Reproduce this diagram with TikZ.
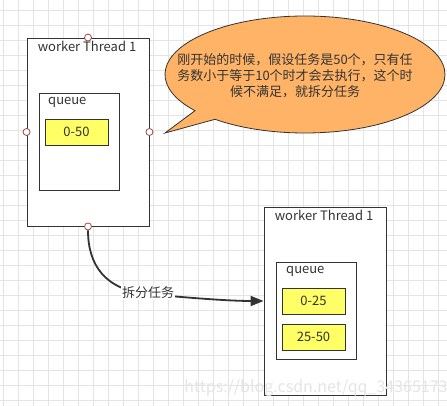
\documentclass[tikz,border=0pt]{standalone}
\usepackage{fontspec}
\setmainfont{Noto Sans CJK SC}
\usetikzlibrary{arrows.meta}
\definecolor{txt}{HTML}{333333}
\definecolor{gridc}{HTML}{E4E4E4}
\definecolor{yel}{HTML}{FFFF66}
\definecolor{orng}{HTML}{FFB366}
\definecolor{portc}{HTML}{9E4848}
\tikzset{
  gridline/.style={draw=gridc, line width=0.6pt},
  frame/.style={draw=txt, line width=0.9pt, fill=white, inner sep=0pt},
  valbox/.style={draw=txt, line width=0.9pt, fill=yel, inner sep=0pt, minimum width=63pt, minimum height=26pt, text=txt, font=\fontsize{13}{15}\selectfont},
  lbl/.style={text=txt, inner sep=0pt, font=\fontsize{13}{15}\selectfont},
  port/.style={circle, draw=portc, fill=white, line width=0.8pt, minimum size=7pt, inner sep=0pt},
  callshape/.style={draw=txt, line width=0.8pt, fill=orng},
  calltext/.style={text=txt, align=center, inner sep=0pt, font=\fontsize{13}{16}\selectfont},
  conn/.style={draw=txt, line width=1.8pt, -{Triangle[length=13pt,width=10pt]}},
}
\begin{document}
\begin{tikzpicture}[x=1pt,y=-1pt]
\useasboundingbox (0,0) rectangle (447,406);
\fill[white] (0,0) rectangle (447,406);
\foreach \x in {3,18,...,438} \draw[gridline] (\x,0) -- (\x,406);
\foreach \y in {10,25,...,400} \draw[gridline] (0,\y) -- (447,\y);

% left worker
\node[frame, minimum width=122pt, minimum height=188pt] (box1) at (88,132) {};
\node[lbl] (t1) at (87,46) {worker Thread 1};
\node[frame, minimum width=80pt, minimum height=97pt] (q1) at (79,141.5) {};
\node[lbl, anchor=west] (ql1) at (48,102) {queue};
\node[valbox] (v1) at (76.5,132) {0-50};
\foreach \a in {north,south,east,west} \node[port] (p\a) at (box1.\a) {};

% right worker
\node[frame, minimum width=122pt, minimum height=188pt] (box2) at (325,301) {};
\node[lbl] (t2) at (324,215) {worker Thread 1};
\node[frame, minimum width=80pt, minimum height=97pt] (q2) at (316,310.5) {};
\node[lbl, anchor=west] (ql2) at (286,271) {queue};
\node[valbox] (v2a) at (313.5,301) {0-25};
\node[valbox] (v2b) at (313.5,337) {25-50};

% callout
\filldraw[callshape] (305,74.5) ++(130:140 and 58.5) arc[start angle=130, end angle=-218.2, x radius=140, y radius=58.5] -- (165,133) -- cycle;
\node[calltext] (callout) at (295,76) {刚开始的时候，假设任务是50个，只有任\\务数小于等于10个时才会去执行，这个时\\候不满足，就拆分任务};

% connector
\draw[conn] (psouth) .. controls (88,265) and (105,290) .. (148,294) .. controls (190,298) and (230,301) .. (box2.west);
\node[lbl, fill=white, inner sep=1pt] (split) at (148,293) {拆分任务};

% watermark
\node[text=gray!20, inner sep=0pt, font=\fontsize{16}{18}\selectfont] (wm) at (316,388) {https://blog.csdn.net/qq\_34365173};
\end{tikzpicture}
\end{document}
